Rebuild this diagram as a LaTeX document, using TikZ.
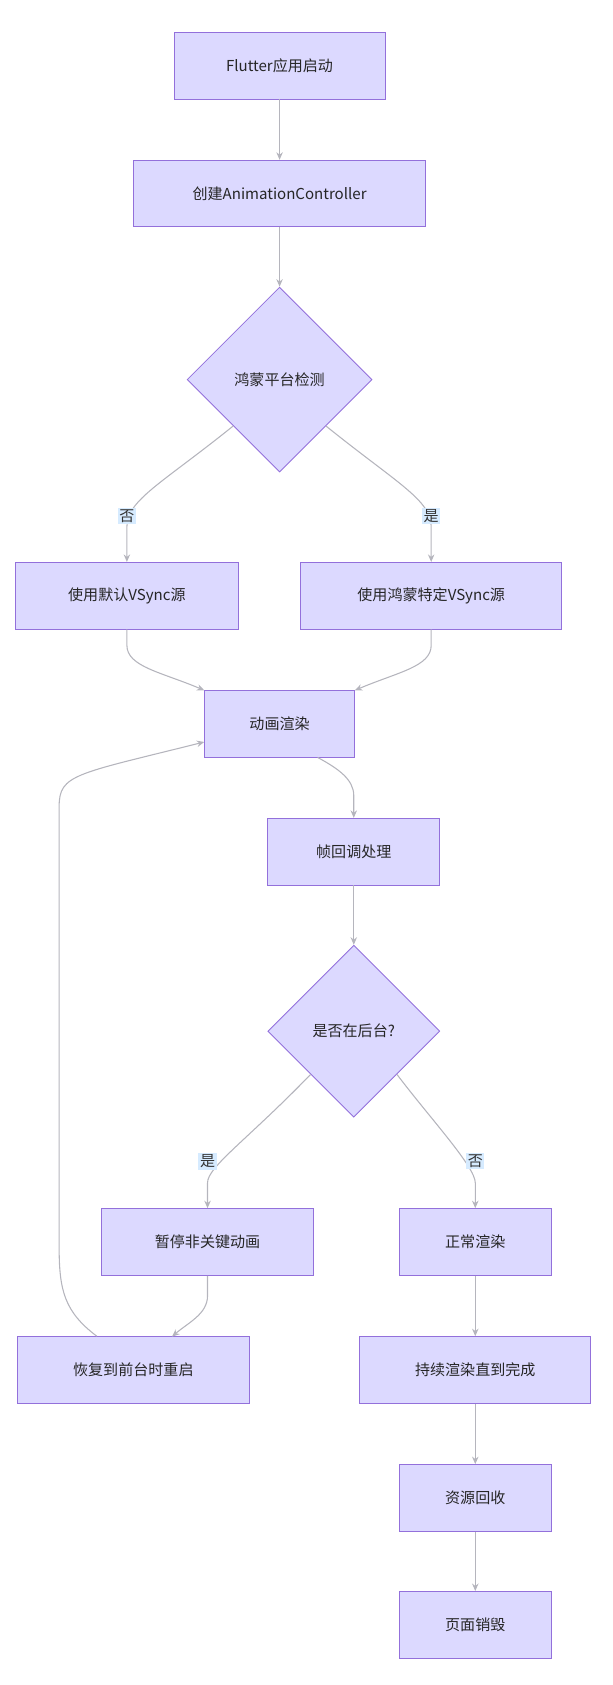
\documentclass[tikz,border=0pt]{standalone}
\usepackage{fontspec}
\setmainfont{Noto Sans CJK SC}
\usetikzlibrary{shapes.geometric,arrows.meta}
\definecolor{nfill}{HTML}{DCD9FF}
\definecolor{nstroke}{HTML}{9370DB}
\definecolor{edge}{HTML}{B5B5BD}
\definecolor{lbl}{HTML}{D6EBFF}
\begin{document}
\begin{tikzpicture}[x=1pt,y=-1pt,
  box/.style={draw=nstroke,fill=nfill,line width=0.8pt,minimum height=62pt,inner sep=0pt,font=\fontsize{14}{16}\selectfont,text=black!85},
  dia/.style={draw=nstroke,fill=nfill,line width=0.8pt,diamond,minimum width=172pt,minimum height=172pt,inner sep=0pt,font=\fontsize{14}{16}\selectfont,text=black!85},
  ar/.style={draw=edge,line width=1pt,-{Stealth[length=7pt,width=6pt]}},
  el/.style={fill=lbl,inner sep=1.5pt,font=\fontsize{14}{16}\selectfont,text=black!80}]
\useasboundingbox (0,0) rectangle (570,1567);
\node[box,minimum width=196pt] (a) at (260,61) {Flutter应用启动};
\node[box,minimum width=271pt] (b) at (260,180) {创建AnimationController};
\node[dia] (c) at (260,353) {鸿蒙平台检测};
\node[box,minimum width=207pt] (d) at (118,554) {使用默认VSync源};
\node[box,minimum width=243pt] (e) at (401,554) {使用鸿蒙特定VSync源};
\node[box,minimum width=140pt] (f) at (260,673) {动画渲染};
\node[box,minimum width=160pt] (g) at (329,792) {帧回调处理};
\node[dia,minimum width=160pt,minimum height=160pt] (h) at (329,959) {是否在后台?};
\node[box,minimum width=197pt] (i) at (193,1155) {暂停非关键动画};
\node[box,minimum width=141pt] (j) at (442,1155) {正常渲染};
\node[box,minimum width=215pt] (k) at (124,1274) {恢复到前台时重启};
\node[box,minimum width=215pt] (l) at (442,1274) {持续渲染直到完成};
\node[box,minimum width=141pt] (m) at (442,1393) {资源回收};
\node[box,minimum width=141pt] (n) at (442,1511) {页面销毁};

\draw[ar] (a) -- (b);
\draw[ar] (b) -- (c);
\draw[ar] (c.south west) .. controls (150,450) and (118,465) .. (118,490) -- (d.north);
\draw[ar] (c.south east) .. controls (370,450) and (401,465) .. (401,490) -- (e.north);
\node[el] at (118,480) {否};
\node[el] at (401,480) {是};
\draw[ar] (d.south) -- (118,600) .. controls (118,620) and (150,625) .. (190,642);
\draw[ar] (e.south) -- (401,600) .. controls (401,620) and (370,625) .. (330,642);
\draw[ar] (f.south east) ++(-35,0) .. controls (315,715) and (329,725) .. (329,740) -- (g.north);
\draw[ar] (g) -- (h);
\draw[ar] (h.south west) .. controls (230,1060) and (193,1085) .. (193,1100) -- (i.north);
\draw[ar] (h.south east) .. controls (400,1040) and (442,1085) .. (442,1100) -- (j.north);
\node[el] at (193,1080) {是};
\node[el] at (442,1080) {否};
\draw[ar] (i.south) -- (193,1205) .. controls (193,1222) and (175,1230) .. (160,1243);
\draw[ar] (k.north) ++(-34,0) .. controls (60,1220) and (55,1200) .. (55,1160) -- (55,750) .. controls (55,720) and (70,720) .. (190,690);
\draw[ar] (j) -- (l);
\draw[ar] (l) -- (m);
\draw[ar] (m) -- (n);
\end{tikzpicture}
\end{document}
